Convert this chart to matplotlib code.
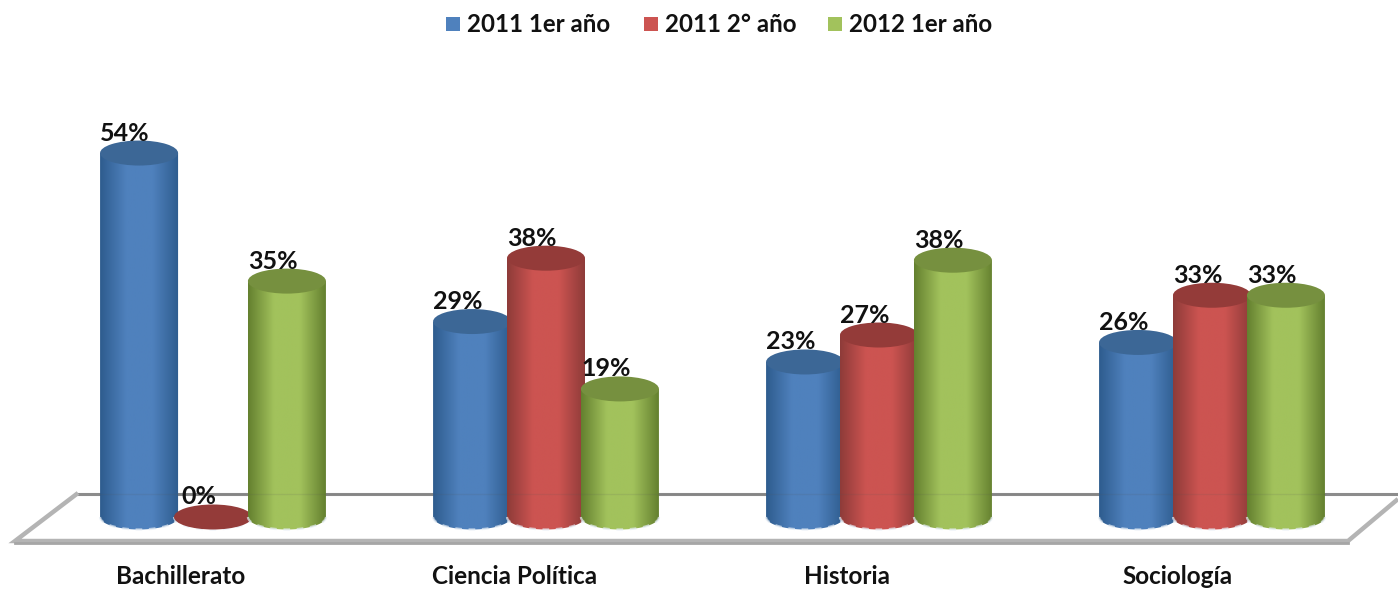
# plot.py - 3D looking cylinder bars, drawn on normal data axes
import numpy as np
import matplotlib
matplotlib.use("Agg")
import matplotlib.pyplot as plt
from matplotlib.colors import LinearSegmentedColormap
from matplotlib.patches import Ellipse, PathPatch, Polygon, Rectangle
from matplotlib.path import Path

categories = ["Bachillerato", "Ciencia Política", "Historia", "Sociología"]
series_names = ["2011 1er año", "2011 2° año", "2012 1er año"]
vals_2011_1 = [54, 29, 23, 25.9]
vals_2011_2 = [0, 38.4, 27, 32.9]
vals_2012_1 = [35, 19, 38.1, 32.9]

W, H = 1398, 589
PX_X = 333.0   # pixels per category
PX_Y = 6.74    # pixels per percent
X0, Y0 = 213.0, 517.0  # pixel position of first category at 0%


def dx(px):
    return (px - X0) / PX_X


def dy(py):
    return (Y0 - py) / PX_Y


plt.rcParams["font.family"] = ["Lato", "DejaVu Sans"]
fig = plt.figure(figsize=(W / 100, H / 100), dpi=100)
ax = fig.add_axes([0, 0, 1, 1])

# floor of the 3d box
ax.plot([dx(78), dx(1398)], [dy(494), dy(494)], color="#8c8c8c", lw=2.2, zorder=1)
ax.add_patch(Polygon([(dx(78), dy(493)), (dx(15), dy(541)), (dx(1348), dy(541)), (dx(1398), dy(499))],
                     closed=False, fill=False, edgecolor="#b4b4b4", lw=3.2, zorder=1))
ax.plot([dx(15), dx(1348)], [dy(543), dy(543)], color="#a6a6a6", lw=2, zorder=1)

styles = [
    ("#4F81BD", "#2E5C8E", "#3C6796"),
    ("#CC5451", "#8E3B39", "#943B39"),
    ("#A2C25C", "#64802F", "#76903F"),
]
offsets = [-0.222, 0.0, 0.222]
bar_w = 78 / PX_X
rx = bar_w / 2
ry = 12.5 / PX_Y
t = np.linspace(0, np.pi, 40)

z = 2
for j, vals in enumerate([vals_2011_1, vals_2011_2, vals_2012_1]):
    base, dark, top = styles[j]
    cmap = LinearSegmentedColormap.from_list("c%d" % j, [dark, base, base, dark], N=128)
    for i, v in enumerate(vals):
        cx = i + offsets[j]
        if v > 0:
            xs = np.r_[cx - rx, cx + rx * np.cos(t[::-1]), cx + rx, cx - rx]
            ys = np.r_[0, -ry * np.sin(t[::-1]), v, v]
            body = PathPatch(Path(np.c_[xs, ys]), fc="none", ec="none", transform=ax.transData)
            ax.add_patch(body)
            im = ax.imshow(np.linspace(0, 1, 128)[None, :], cmap=cmap, aspect="auto", zorder=z,
                           extent=[cx - rx, cx + rx, -ry, v], interpolation="bilinear")
            im.set_clip_path(body)
        ax.plot(cx + rx * np.cos(t), -ry * np.sin(t), color="#e4ecf4", lw=1.6, ls=(0, (3, 3)),
                alpha=0.7, zorder=z + 0.1)
        ax.add_patch(Ellipse((cx, v), bar_w, 2 * ry, fc=top, ec="none", zorder=z + 0.2))
        ax.text(cx - 14 / PX_X, v + 20 / PX_Y, "%.0f%%" % v, ha="center", va="center",
                fontsize=18, fontweight="bold", color="#111111", zorder=30)
        z += 1

# back wall line shows faintly through the bars
ax.plot([dx(100), dx(1325)], [dy(494), dy(494)], color="#555555", lw=1, alpha=0.12, zorder=z)

label_shift = [-32, -31, -32, -34]
for i, c in enumerate(categories):
    ax.text(i + label_shift[i] / PX_X, dy(576), c, ha="center", va="center",
            fontsize=17.5, fontweight="bold", color="#111111")

# legend by hand, matches the original spacing
leg_px = [(446, 467), (644, 665), (828, 849)]
for (sq, tx), name, st in zip(leg_px, series_names, styles):
    ax.add_patch(Rectangle((dx(sq), dy(31)), 14 / PX_X, 14 / PX_Y, fc=st[0], ec="none", zorder=5))
    ax.text(dx(tx), dy(24), name, ha="left", va="center", fontsize=17.4, fontweight="bold", color="#111111")

ax.set_xlim(dx(0), dx(W))
ax.set_ylim(dy(H), dy(0))
ax.axis("off")

fig.savefig("out.png", dpi=100, facecolor="white")
